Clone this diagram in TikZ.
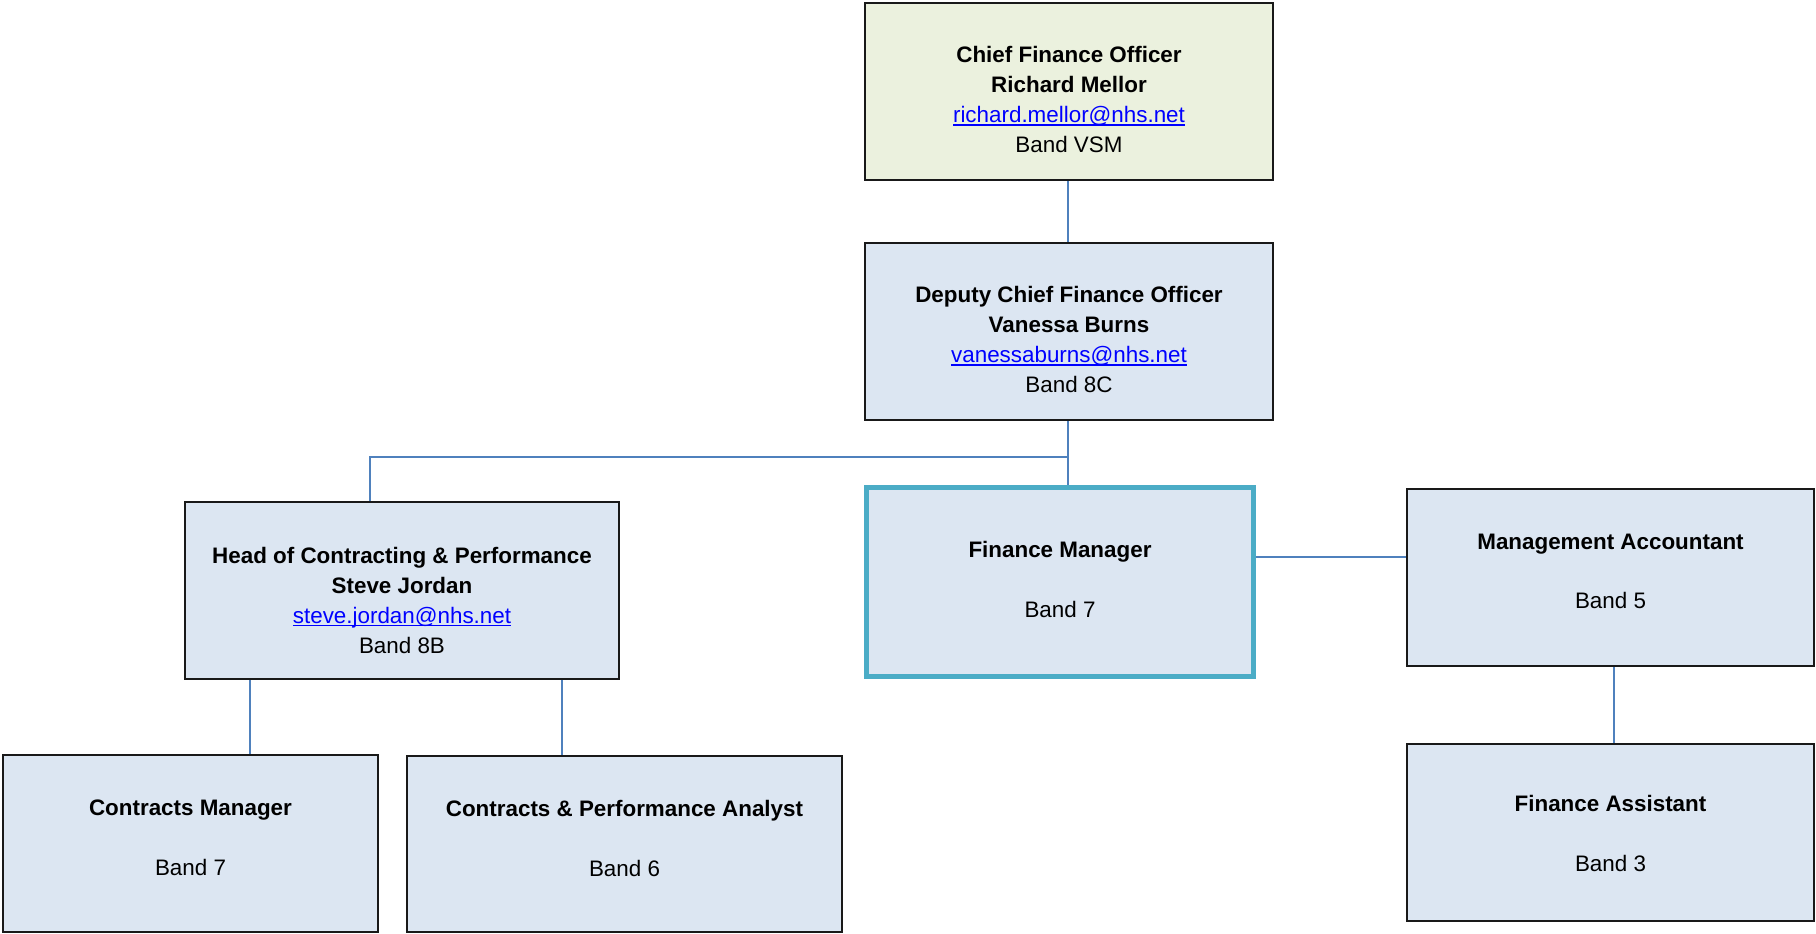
\documentclass[tikz,border=0pt]{standalone}
\usepackage{fontspec}
\setmainfont{Liberation Sans}
\definecolor{boxblue}{HTML}{DCE6F2}
\definecolor{boxolive}{HTML}{EBF1DE}
\definecolor{linkblue}{HTML}{0000FF}
\definecolor{conn}{HTML}{4F81BD}
\definecolor{teal}{HTML}{4BACC6}
\newcommand\mailaddr[1]{{\color{linkblue}\setbox0\hbox{#1}\rlap{\rule[-3pt]{\wd0}{1.4pt}}\box0}}
\tikzset{
  orgbox/.style={draw=black!90, line width=2pt, fill=boxblue, inner sep=0pt, rectangle},
  fmbox/.style={draw=teal, line width=5pt, fill=boxblue, inner sep=0pt, rectangle},
  txt/.style={align=center, inner sep=0pt, font=\fontsize{22.4}{30}\selectfont},
  link/.style={draw=conn, line width=1.8pt}
}
\begin{document}
\begin{tikzpicture}[x=1pt,y=-1pt]
\useasboundingbox[fill=white] (0,0) rectangle (1816,934);
% boxes
\node[orgbox, fill=boxolive, minimum width=408pt, minimum height=177pt] (cfo) at (1069,91.5) {};
\node[orgbox, minimum width=408pt, minimum height=177pt] (dcfo) at (1069,331.5) {};
\node[orgbox, minimum width=434pt, minimum height=177pt] (head) at (402,590.5) {};
\node[fmbox, minimum width=387pt, minimum height=189pt] (fm) at (1060,582) {};
\node[orgbox, minimum width=407pt, minimum height=177pt] (ma) at (1610.5,577.5) {};
\node[orgbox, minimum width=407pt, minimum height=177pt] (fa) at (1610.5,832.5) {};
\node[orgbox, minimum width=375pt, minimum height=177pt] (cm) at (190.5,843.5) {};
\node[orgbox, minimum width=435pt, minimum height=176pt] (cpa) at (624.5,844) {};
% texts
\node[txt] (cfo-t) at ([yshift=-8pt]cfo.center) {\textbf{Chief Finance Officer}\\\textbf{Richard Mellor}\\\mailaddr{richard.mellor@nhs.net}\\Band VSM};
\node[txt] (dcfo-t) at ([yshift=-8pt]dcfo.center) {\textbf{Deputy Chief Finance Officer}\\\textbf{Vanessa Burns}\\\mailaddr{vanessaburns@nhs.net}\\Band 8C};
\node[txt] (head-t) at ([yshift=-9.5pt]head.center) {\textbf{Head of Contracting \& Performance}\\\textbf{Steve Jordan}\\\mailaddr{steve.jordan@nhs.net}\\Band 8B};
\node[txt] (fm-t) at ([yshift=2.3pt]fm.center) {\textbf{Finance Manager}\\[30pt]Band 7};
\node[txt] (ma-t) at ([yshift=6pt]ma.center) {\textbf{Management Accountant}\\[29pt]Band 5};
\node[txt] (fa-t) at ([yshift=-1.4pt]fa.center) {\textbf{Finance Assistant}\\[30pt]Band 3};
\node[txt] (cm-t) at ([yshift=6pt]cm.center) {\textbf{Contracts Manager}\\[30pt]Band 7};
\node[txt] (cpa-t) at ([yshift=5.5pt]cpa.center) {\textbf{Contracts \& Performance Analyst}\\[30pt]Band 6};
% connector helpers
\coordinate (bus) at (1068,457);
\coordinate (hx) at (370,0);
\coordinate (cmx) at (250,0);
\coordinate (cpax) at (562,0);
\coordinate (fmy) at (0,557);
\coordinate (max) at (1614,0);
\coordinate (dx) at (1068,0);
% connectors
\draw[link] (cfo.south -| dx) -- (dcfo.north -| dx);
\draw[link] (dcfo.south -| dx) -- (fm.north -| dx);
\draw[link] (bus) -| (head.north -| hx);
\draw[link] (head.south -| cmx) -- (cm.north -| cmx);
\draw[link] (head.south -| cpax) -- (cpa.north -| cpax);
\draw[link] (fm.east |- fmy) -- (ma.west |- fmy);
\draw[link] (ma.south -| max) -- (fa.north -| max);
\end{tikzpicture}
\end{document}
